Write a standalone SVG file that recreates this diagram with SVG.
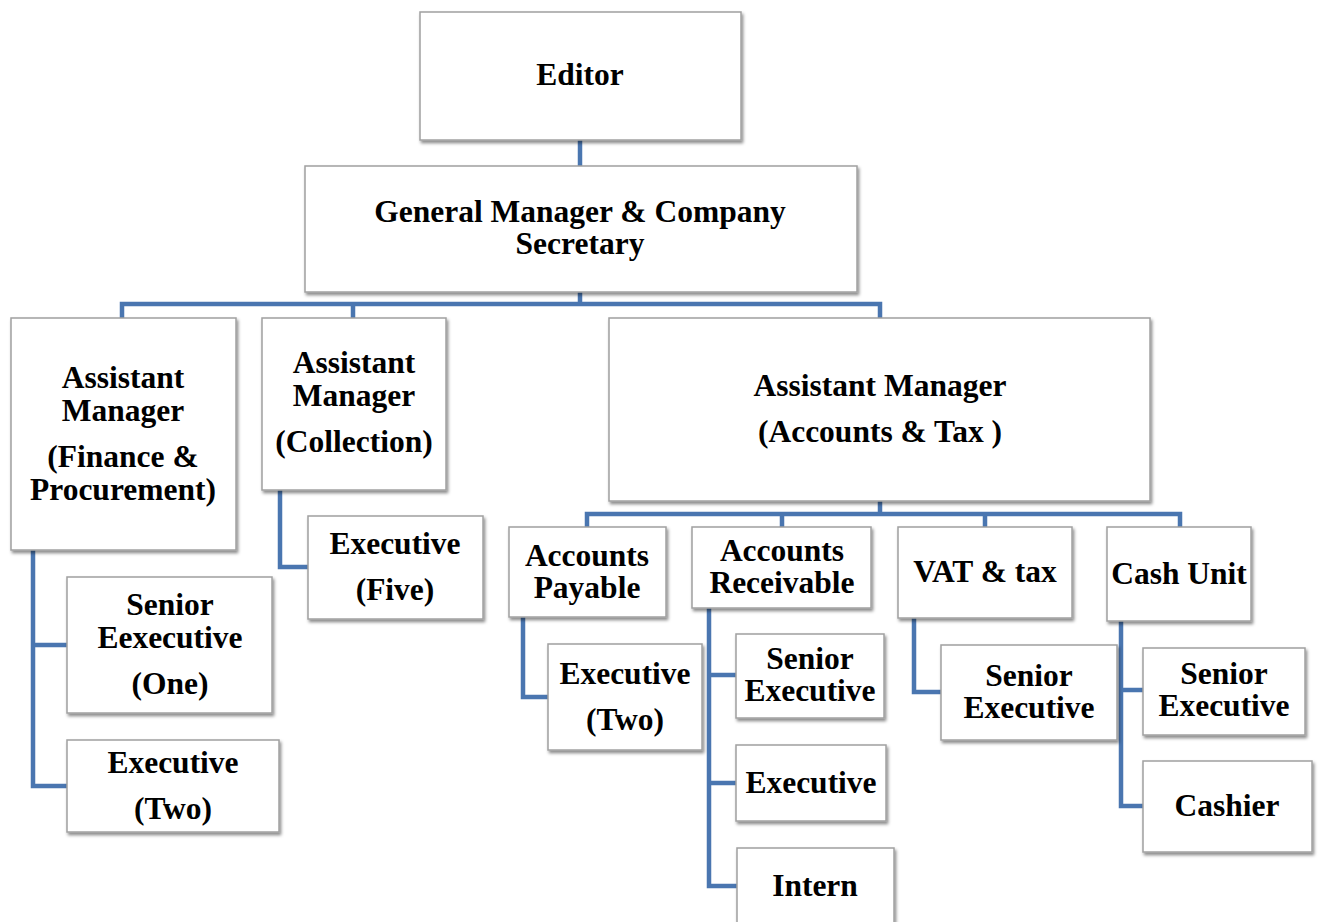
<svg xmlns="http://www.w3.org/2000/svg" width="1320" height="922" viewBox="0 0 1320 922">
<defs>
<filter id="sh" x="-5%" y="-5%" width="115%" height="120%">
<feDropShadow dx="1.5" dy="2.5" stdDeviation="1.5" flood-color="#000" flood-opacity="0.45"/>
</filter>
<style>
.b{fill:#fff;stroke:#a0a0a0;stroke-width:1.5;filter:url(#sh)}
.t{font-family:"Liberation Serif","Times New Roman",serif;font-weight:bold;font-size:31.5px;fill:#000;text-anchor:middle}
.c{fill:none;stroke:#4a76b0;stroke-width:4.5;stroke-linejoin:miter;stroke-linecap:square}
</style>
</defs>
<rect width="1320" height="922" fill="#fff"/>
<g id="connectors">
<path class="c" d="M580 140V166"/>
<path class="c" d="M580 292V304M122 318V304H880V318M353 304V318"/>
<path class="c" d="M880 501V514M587 527V514H1180V527M782 514V527M985 514V527"/>
<path class="c" d="M33 550V786H67M33 645H67"/>
<path class="c" d="M280 490V567H308"/>
<path class="c" d="M523 617V697H548"/>
<path class="c" d="M709 608V886H737M709 675H736M709 783H736"/>
<path class="c" d="M914 618V692H941"/>
<path class="c" d="M1121 621V806H1143M1121 690H1143"/>
</g>
<g id="editor"><rect class="b" x="420" y="12" width="321" height="128"/><text class="t" x="580" y="85">Editor</text></g>
<g id="gm"><rect class="b" x="305" y="166" width="552" height="126"/><text class="t" x="580" y="222">General Manager &amp; Company</text><text class="t" x="580" y="254">Secretary</text></g>
<g id="am-finance"><rect class="b" x="11" y="318" width="225" height="232"/><text class="t" x="123" y="388">Assistant</text><text class="t" x="123" y="421">Manager</text><text class="t" x="123" y="467">(Finance &amp;</text><text class="t" x="123" y="500">Procurement)</text></g>
<g id="am-collection"><rect class="b" x="262" y="318" width="184" height="172"/><text class="t" x="354" y="373">Assistant</text><text class="t" x="354" y="406">Manager</text><text class="t" x="354" y="452">(Collection)</text></g>
<g id="am-accounts"><rect class="b" x="609" y="318" width="541" height="183"/><text class="t" x="880" y="396">Assistant Manager</text><text class="t" x="880" y="442">(Accounts &amp; Tax )</text></g>
<g id="accounts-payable"><rect class="b" x="509" y="527" width="157" height="90"/><text class="t" x="587" y="566">Accounts</text><text class="t" x="587" y="598">Payable</text></g>
<g id="accounts-receivable"><rect class="b" x="692" y="527" width="179" height="81"/><text class="t" x="782" y="561">Accounts</text><text class="t" x="782" y="593">Receivable</text></g>
<g id="vat"><rect class="b" x="898" y="527" width="174" height="91"/><text class="t" x="985" y="582">VAT &amp; tax</text></g>
<g id="cash-unit"><rect class="b" x="1107" y="527" width="144" height="94"/><text class="t" x="1179" y="584">Cash Unit</text></g>
<g id="exec-five"><rect class="b" x="308" y="516" width="175" height="103"/><text class="t" x="395" y="554">Executive</text><text class="t" x="395" y="600">(Five)</text></g>
<g id="senior-one"><rect class="b" x="67" y="577" width="205" height="136"/><text class="t" x="170" y="615">Senior</text><text class="t" x="170" y="648">Eexecutive</text><text class="t" x="170" y="694">(One)</text></g>
<g id="exec-two-fin"><rect class="b" x="67" y="740" width="212" height="92"/><text class="t" x="173" y="773">Executive</text><text class="t" x="173" y="819">(Two)</text></g>
<g id="exec-two-ap"><rect class="b" x="548" y="644" width="154" height="106"/><text class="t" x="625" y="684">Executive</text><text class="t" x="625" y="730">(Two)</text></g>
<g id="senior-ar"><rect class="b" x="736" y="634" width="148" height="84"/><text class="t" x="810" y="669">Senior</text><text class="t" x="810" y="701">Executive</text></g>
<g id="exec-ar"><rect class="b" x="736" y="745" width="150" height="76"/><text class="t" x="811" y="793">Executive</text></g>
<g id="intern"><rect class="b" x="737" y="848" width="157" height="80"/><text class="t" x="815" y="896">Intern</text></g>
<g id="senior-vat"><rect class="b" x="941" y="645" width="176" height="95"/><text class="t" x="1029" y="686">Senior</text><text class="t" x="1029" y="718">Executive</text></g>
<g id="senior-cash"><rect class="b" x="1143" y="648" width="162" height="87"/><text class="t" x="1224" y="684">Senior</text><text class="t" x="1224" y="716">Executive</text></g>
<g id="cashier"><rect class="b" x="1143" y="761" width="169" height="91"/><text class="t" x="1227" y="816">Cashier</text></g>
</svg>
